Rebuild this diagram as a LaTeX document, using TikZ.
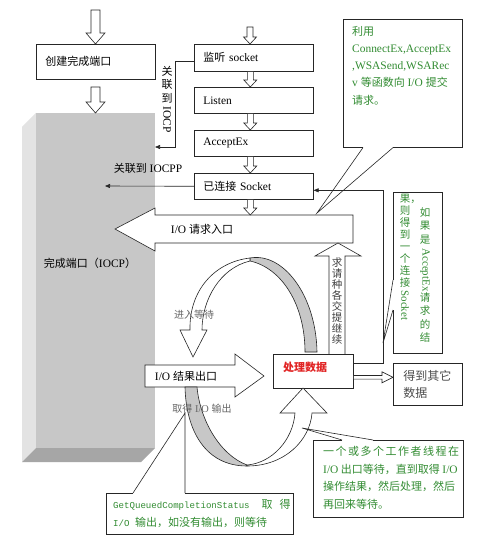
\documentclass[tikz,border=0pt]{standalone}
\usepackage{fontspec}
\usepackage{graphicx}
\setmainfont{Liberation Serif}[Scale=1.04]
\setmonofont{Liberation Mono}
\newfontfamily\cjk{Noto Sans CJK SC}
\usetikzlibrary{calc,arrows.meta}
\definecolor{grn}{RGB}{50,140,50}
\definecolor{redt}{RGB}{225,35,35}
\definecolor{lnc}{gray}{0.15}
\newcommand\zh[1]{{\cjk #1}}
\newcommand\zs[1]{{\cjk #1}\hspace{1.5pt}}
\newcommand\vlat[2]{\raisebox{#1}{\rotatebox{-90}{#2}}}
\newcommand\hdown[5]{\draw[harrow] let \p1=(#1), \p2=(#2) in (\x1-#3,\y1) -- (\x1-#3,\y2+#5) -- (\x1-#4,\y2+#5) -- (\x1,\y2) -- (\x1+#4,\y2+#5) -- (\x1+#3,\y2+#5) -- (\x1+#3,\y1) -- cycle;}
\newcommand\hright[5]{\draw[harrow] let \p1=(#1), \p2=(#2) in (\x1,\y1+#3) -- (\x2-#5,\y1+#3) -- (\x2-#5,\y1+#4) -- (\x2,\y1) -- (\x2-#5,\y1-#4) -- (\x2-#5,\y1-#3) -- (\x1,\y1-#3) -- cycle;}
\newcommand\pointer[3]{\draw[white, line width=1.3pt] (#1) -- (#2); \draw[thinl] (#1) -- (#3) -- (#2);}
\begin{document}
\begin{tikzpicture}[x=1pt,y=-1pt, font=\fontsize{11}{13}\selectfont,
 box/.style={draw=lnc, line width=0.6pt, fill=white, anchor=north west, align=left, inner xsep=9pt, inner ysep=0pt, text width=101pt},
 harrow/.style={draw=lnc, line width=0.6pt, fill=white, line join=miter},
 conn/.style={draw=lnc, line width=0.6pt, -{Triangle[length=5pt,width=4pt]}},
 thinl/.style={draw=lnc, line width=0.6pt},
 txt/.style={inner sep=0pt},
 gtxt/.style={inner sep=0pt, text=grn},
 ribbongray/.style={fill=black!22, draw=lnc, line width=0.6pt},
 ribbonwhite/.style={fill=white, draw=lnc, line width=0.6pt},
 vstack/.style={inner sep=0pt, align=center, anchor=north},
 callbox/.style={draw=lnc, line width=0.6pt, fill=white, anchor=north west, inner sep=0pt}
]
\useasboundingbox (0,0) rectangle (486,548);
\fill[white] (0,0) rectangle (486,548);

% completion port 3D block
\fill[black!11] (22,127) -- (36,113) -- (36,448) -- (22,462) -- cycle;
\node[fill=black!22, minimum width=119pt, minimum height=335pt, anchor=north west, inner sep=0pt] (iocp) at (36,113) {};
\fill[black!35] (36,448) -- (155,448) -- (141,462) -- (22,462) -- cycle;
\node[txt] (iocplbl) at (90,263) {\zh{完成端口（}IOCP\zh{）}};

% big block arrows
\draw[harrow] (353,215) -- (155,215) -- (155,208) -- (115,229) -- (155,251) -- (155,243) -- (353,243) -- cycle;
\node[txt] (reqlbl) at (202,229) {I/O \zh{请求入口}};
\draw[harrow] (145,365) -- (235,365) -- (235,354) -- (264,376) -- (235,397) -- (235,387) -- (145,387) -- cycle;
\node[txt] (reslbl) at (186,376) {I/O \zh{结果出口}};
\draw[harrow] (329,354) -- (329,256) -- (315,256) -- (338,243) -- (361,256) -- (345,256) -- (345,354);
\node[vstack, text=black!75, font=\fontsize{10.5}{11.1}\selectfont] (contlbl) at (337,257)
  {\zh{求}\\\zh{请}\\\zh{种}\\\zh{各}\\\zh{交}\\\zh{提}\\\zh{继}\\\zh{续}};

% boxes
\node[box, minimum height=35pt] (create) at (36,44) {\zh{创建完成端口}};
\draw[lnc, line width=1.4pt] (create.south west) -- (create.south east);
\node[box, minimum height=27pt] (sock) at (194,44) {\zh{监听} socket};
\node[box, minimum height=26pt] (listen) at (194,87) {Listen};
\node[box, minimum height=26pt] (accept) at (194,130) {AcceptEx};
\node[box, minimum height=26pt] (linked) at (194,173) {\zh{已连接} Socket};
\node[box, text width=60pt, inner xsep=10pt, minimum height=34pt] (proc) at (273,354) {};
\node[txt, anchor=west, text=redt, font=\fontsize{11}{13}\selectfont\bfseries] (proclbl) at (283,367) {\zh{处理数据}};
\node[box, text width=49pt, inner xsep=10pt, minimum height=42pt, text=black!70, font=\fontsize{12}{17}\selectfont] (other) at (393,363) {\zh{得到其它}\\\zh{数据}};

% small hollow arrows
\coordinate (a0) at (95.5,10);
\coordinate (a1) at (95.5,87);
\coordinate (a2) at (250,27);
\coordinate (reqtop) at (250,215);
\hdown{a0}{create.north}{4.5pt}{9.5pt}{11pt}
\hdown{a1}{iocp.north}{4.5pt}{9.5pt}{11pt}
\hdown{a2}{sock.north}{3pt}{6.5pt}{7pt}
\hdown{[xshift=-3.5pt]sock.south}{listen.north}{3pt}{6.5pt}{7pt}
\hdown{[xshift=-3.5pt]listen.south}{accept.north}{3pt}{6.5pt}{7pt}
\hdown{[xshift=-3.5pt]accept.south}{linked.north}{3pt}{6.5pt}{7pt}
\hdown{[xshift=-3.5pt]linked.south}{reqtop}{3pt}{6.5pt}{7pt}
\hright{[yshift=-6pt]proc.east}{other.west}{1.8pt}{5.5pt}{11pt}

% connectors
\coordinate (in1) at (155,147);
\coordinate (in2) at (105,186);
\draw[conn] ([yshift=-3.5pt]sock.west) -- ++(-19,0) |- (in1);
\node[vstack, font=\fontsize{11}{13.5}\selectfont] (assoc1) at (167,66) {\zh{关}\\\zh{联}\\\zh{到}\\\vlat{9pt}{IOCP}};
\draw[conn] (linked.west) -- (in2);
\node[txt] (assoc2) at (148,168) {\zh{关联到} IOCPP};
\draw[conn] ([yshift=8pt]proc.east) -- ++(30,0) |- ([yshift=-4pt]linked.east);

% upper ribbon (wait)
\filldraw[ribbongray] (250,258) .. controls (283,252) and (316,295) .. (317,352) -- (305,352) .. controls (305,305) and (282,268) .. (250,261) -- cycle;
\filldraw[ribbonwhite] (250,258) .. controls (215,262) and (189,290) .. (190,330) -- (180,330) -- (193,357) -- (207,330) -- (202,330) .. controls (202,300) and (220,268) .. (250,261) -- cycle;
\node[txt, text=black!60, font=\fontsize{10}{12}\selectfont] (waitlbl) at (194,315) {\zh{进入等待}};

% lower ribbon (fetch)
\filldraw[ribbongray] (185,387) .. controls (186,430) and (205,466) .. (247,466) -- (247,465) .. controls (220,455) and (200,420) .. (197,387) -- cycle;
\filldraw[ribbonwhite] (247,466) .. controls (285,466) and (310,440) .. (312,413) -- (327,413) -- (303,388) -- (280,413) -- (295,413) .. controls (293,440) and (272,463) .. (247,465) -- cycle;
\node[txt, text=black!60, font=\fontsize{10}{12}\selectfont] (fetchlbl) at (202,409) {\zh{取得} I/O \zh{输出}};

% callout 1
\node[callbox, minimum width=119pt, minimum height=128pt] (c1) at (343,19) {};
\coordinate (c1tip) at (317,213);
\pointer{$(c1.south west)+(20,0)$}{$(c1.south west)+(50,0)$}{c1tip}
\node[gtxt, anchor=north west, align=left, font=\fontsize{11}{17.2}\selectfont] (c1t) at (352,26)
  {\zh{利用}\\ConnectEx,AcceptEx\\,WSASend,WSARec\\v \zh{等函数向} I/O \zh{提交}\\\zh{请求。}};

% callout 2
\node[callbox, minimum width=49pt, minimum height=161pt] (c2) at (393,192) {};
\coordinate (c2tip) at (383,343);
\pointer{$(c2.north west)+(0,88)$}{$(c2.north west)+(0,118)$}{c2tip}
\node[gtxt, vstack, font=\fontsize{10.5}{13.5}\selectfont] (c2r) at (425,207)
  {\zh{如}\\\zh{果}\\\zh{是}\\\vlat{8pt}{AcceptEx}\\\zh{请}\\\zh{求}\\\zh{的}\\\zh{结}};
\node[gtxt, vstack, font=\fontsize{10.5}{12}\selectfont] (c2l) at (405,194)
  {\zh{果\rlap{，}}\\\zh{则}\\\zh{得}\\\zh{到}\\\zh{一}\\\zh{个}\\\zh{连}\\\zh{接}\\\vlat{8pt}{Socket}};

% callout 3
\node[callbox, minimum width=187pt, minimum height=41pt] (c3) at (106,493) {};
\coordinate (c3tip) at (185,413);
\pointer{$(c3.north west)+(27,0)$}{$(c3.north west)+(79,0)$}{c3tip}
\node[gtxt, anchor=north west, align=left, font=\fontsize{11}{18}\selectfont] (c3t) at (113,499)
  {{\ttfamily\fontsize{9.1}{18}\selectfont GetQueuedCompletionStatus}\hspace{12pt}\zh{取}\hspace{7pt}\zh{得}\\{\ttfamily\fontsize{9.1}{18}\selectfont I/O }\zh{输出，如没有输出，则等待}};

% callout 4
\node[callbox, minimum width=150pt, minimum height=77pt] (c4) at (313,440) {};
\coordinate (c4tip) at (302,428);
\pointer{$(c4.north west)+(29,0)$}{$(c4.north west)+(60,0)$}{c4tip}
\node[gtxt, anchor=north west, align=left, font=\fontsize{11}{17.6}\selectfont] (c4t) at (323,446)
  {\zs{一}\zs{个}\zs{或}\zs{多}\zs{个}\zs{工}\zs{作}\zs{者}\zs{线}\zs{程}\zh{在}\\I/O\hspace{2.5pt}\zh{出口等待，直到取得}\hspace{2.5pt}I/O\\\zh{操作结果，然后处理，然后}\\\zh{再回来等待。}};
\end{tikzpicture}
\end{document}
